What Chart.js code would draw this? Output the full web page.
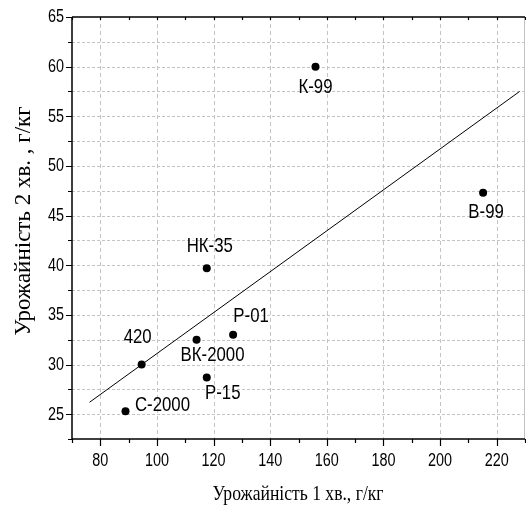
<!DOCTYPE html>
<html>
<head>
<meta charset="utf-8">
<script src="https://cdn.jsdelivr.net/npm/chart.js@4"></script>
<style>
  html, body { margin: 0; padding: 0; background: #fff; overflow: hidden; }
  #wrap { width: 529px; height: 505px; }
</style>
</head>
<body>
<div id="wrap"><canvas id="scatter"></canvas></div>
<script>
// sorts (labels next to points)
const varieties = ["К-99", "В-99", "НК-35", "Р-01", "ВК-2000", "420", "Р-15", "С-2000"];
// yield after 1 min and after 2 min, g/kg
const yield1 = [156.0, 215.2, 117.6, 126.9, 114.0, 94.6, 117.6, 88.9];
const yield2 = [60.0, 47.3, 39.7, 33.0, 32.5, 30.0, 28.7, 25.3];
// trend line ends
const trendX = [76.2, 228.1];
const trendY = [26.2, 57.5];
// axes
const xMin = 70, xMax = 230, xStep = 10, xLabelEvery = 20;
const yMin = 22.5, yMax = 65, yStep = 2.5, yLabelEvery = 5;

// label offsets from the point, px (styling only)
const labelDx = [0, 3, 3, 18, 16, -4, 16, 37];
const labelDy = [21, 19, -22, -19, 15, -27, 16, -6];

const sans = "'Liberation Sans', Arial, sans-serif";
const serif = "'Liberation Serif', 'Times New Roman', serif";
const squeeze = 0.8; // the original picture is narrowed
const isMult = (v, m) => Math.abs(v / m - Math.round(v / m)) < 1e-6;

function narrowText(ctx, text, x, y) {
  ctx.save();
  ctx.translate(x, y);
  ctx.scale(squeeze, 1);
  ctx.fillText(text, 0, 0);
  ctx.restore();
}

const gridPlugin = {
  id: "grid",
  beforeDatasetsDraw(chart) {
    const ctx = chart.ctx;
    const a = chart.chartArea;
    const xs = chart.scales.x, ys = chart.scales.y;
    ctx.save();
    ctx.strokeStyle = "#c4c4c4";
    ctx.lineWidth = 1;
    // vertical dashed
    ctx.setLineDash([4, 3]);
    ctx.beginPath();
    xs.ticks.forEach((t) => {
      if (!isMult(t.value, xLabelEvery) || t.value <= xMin || t.value >= xMax) return;
      const px = Math.round(xs.getPixelForValue(t.value)) + 0.5;
      ctx.moveTo(px, a.top);
      ctx.lineTo(px, a.bottom);
    });
    ctx.stroke();
    // horizontal dotted
    ctx.setLineDash([3, 2]);
    ctx.beginPath();
    ys.ticks.forEach((t) => {
      if (t.value <= yMin || t.value >= yMax) return;
      const py = Math.round(ys.getPixelForValue(t.value)) + 0.5;
      ctx.moveTo(a.left, py);
      ctx.lineTo(a.right, py);
    });
    ctx.stroke();
    ctx.setLineDash([]);
    ctx.beginPath();
    ctx.moveTo(a.right - 0.5, a.top);
    ctx.lineTo(a.right - 0.5, a.bottom);
    ctx.stroke();
    ctx.restore();
  }
};

const framePlugin = {
  id: "frame",
  afterDatasetsDraw(chart) {
    const ctx = chart.ctx;
    const a = chart.chartArea;
    const xs = chart.scales.x, ys = chart.scales.y;
    ctx.save();
    ctx.fillStyle = "#000";
    ctx.textAlign = "center";
    ctx.textBaseline = "middle";
    // point labels
    ctx.font = "21px " + sans;
    varieties.forEach((name, i) => {
      const px = xs.getPixelForValue(yield1[i]);
      const py = ys.getPixelForValue(yield2[i]);
      narrowText(ctx, name, px + labelDx[i], py + labelDy[i]);
    });
    // axes
    ctx.strokeStyle = "#000";
    ctx.lineWidth = 1.5;
    ctx.beginPath();
    ctx.moveTo(a.left, a.top);
    ctx.lineTo(a.left, a.bottom);
    ctx.lineTo(a.right, a.bottom);
    ctx.moveTo(a.left, a.top);
    ctx.lineTo(a.right, a.top);
    ctx.stroke();
    ctx.lineWidth = 1.2;
    ctx.beginPath();
    xs.ticks.forEach((t) => {
      const px = Math.round(xs.getPixelForValue(t.value)) + 0.5;
      const len = isMult(t.value, xLabelEvery) ? 7 : 4;
      ctx.moveTo(px, a.bottom);
      ctx.lineTo(px, a.bottom + len);
      ctx.moveTo(px, a.top);
      ctx.lineTo(px, a.top + 3);
    });
    ys.ticks.forEach((t) => {
      const py = Math.round(ys.getPixelForValue(t.value)) + 0.5;
      const len = isMult(t.value, yLabelEvery) ? 6 : 4;
      ctx.moveTo(a.left, py);
      ctx.lineTo(a.left - len, py);
    });
    ctx.stroke();
    // tick labels
    ctx.font = "18px " + sans;
    xs.ticks.forEach((t) => {
      if (!isMult(t.value, xLabelEvery) || t.value <= xMin || t.value >= xMax) return;
      narrowText(ctx, String(t.value), xs.getPixelForValue(t.value), a.bottom + 22);
    });
    ctx.textAlign = "right";
    ys.ticks.forEach((t) => {
      if (!isMult(t.value, yLabelEvery)) return;
      narrowText(ctx, String(t.value), a.left - 8, ys.getPixelForValue(t.value) + 0.5);
    });
    // axis titles
    ctx.textAlign = "center";
    ctx.font = "22px " + serif;
    narrowText(ctx, "Урожайність 1 хв., г/кг", 298, 494);
    ctx.save();
    ctx.translate(24, 221);
    ctx.rotate(-Math.PI / 2);
    ctx.font = "23px " + serif;
    ctx.fillText("Урожайність 2 хв. , г/кг", 0, 0);
    ctx.restore();
    ctx.restore();
  }
};

new Chart(document.getElementById("scatter"), {
  type: "scatter",
  data: {
    datasets: [
      {
        label: "сорти",
        data: yield1.map((x, i) => ({ x: x, y: yield2[i] })),
        pointRadius: 4,
        pointBackgroundColor: "#000",
        pointBorderColor: "#000",
        pointBorderWidth: 0,
        order: 1
      },
      {
        label: "тренд",
        type: "line",
        data: trendX.map((x, i) => ({ x: x, y: trendY[i] })),
        borderColor: "#000",
        borderWidth: 1,
        pointRadius: 0,
        fill: false,
        order: 2
      }
    ]
  },
  options: {
    responsive: true,
    maintainAspectRatio: false,
    animation: false,
    events: [],
    layout: { padding: { top: 17, right: 0, left: 0, bottom: 0 } },
    plugins: {
      legend: { display: false },
      tooltip: { enabled: false }
    },
    scales: {
      x: {
        type: "linear",
        min: xMin,
        max: xMax,
        afterFit(s) { s.height = 66; },
        afterBuildTicks(s) {
          s.ticks = [];
          for (let v = xMin; v <= xMax + 1e-6; v += xStep) s.ticks.push({ value: v });
        },
        border: { display: false },
        grid: { display: false },
        ticks: { display: false }
      },
      y: {
        type: "linear",
        min: yMin,
        max: yMax,
        afterFit(s) { s.width = 72; },
        afterBuildTicks(s) {
          s.ticks = [];
          for (let v = yMin; v <= yMax + 1e-6; v += yStep) s.ticks.push({ value: v });
        },
        border: { display: false },
        grid: { display: false },
        ticks: { display: false }
      }
    }
  },
  plugins: [gridPlugin, framePlugin]
});
</script>
</body>
</html>
